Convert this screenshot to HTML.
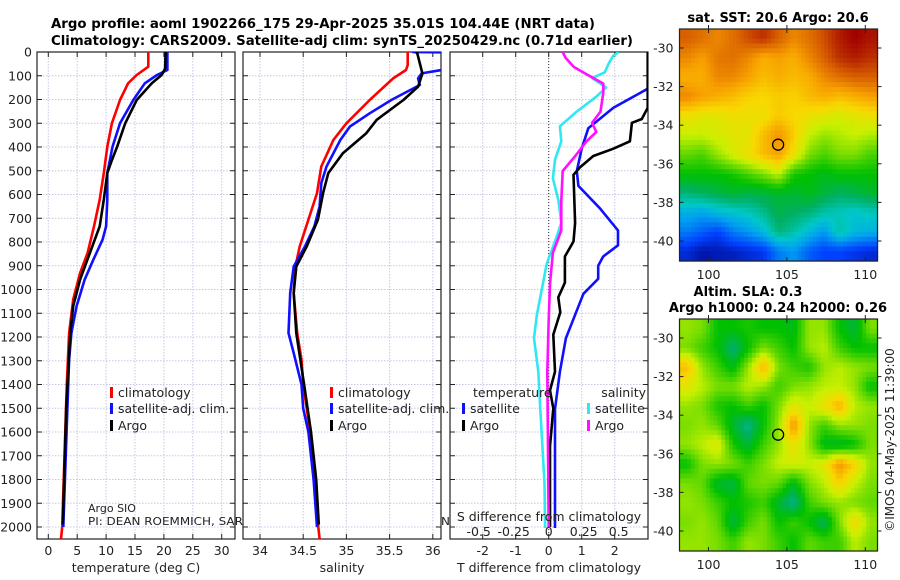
<!DOCTYPE html>
<html><head><meta charset="utf-8">
<style>
html,body{margin:0;padding:0;background:#fff;}
svg{display:block;font-family:"DejaVu Sans","Liberation Sans",sans-serif;}
</style></head>
<body>
<svg id="fig" width="900" height="580" viewBox="0 0 900 580" xmlns="http://www.w3.org/2000/svg">
<rect x="0" y="0" width="900" height="580" fill="#fff"/>
<text x="51" y="28" font-size="13.5" font-weight="bold" textLength="544" lengthAdjust="spacingAndGlyphs">Argo profile: aoml 1902266_175 29-Apr-2025 35.01S 104.44E (NRT data)</text>
<text x="51" y="45" font-size="13.5" font-weight="bold" textLength="582" lengthAdjust="spacingAndGlyphs">Climatology: CARS2009. Satellite-adj clim: synTS_20250429.nc (0.71d earlier)</text>
<g id="layer"></g>
</svg>
<script>
// ---------- data ----------
const depthTicks = [0,100,200,300,400,500,600,700,800,900,1000,1100,1200,1300,1400,1500,1600,1700,1800,1900,2000];
const tempTicks = [0,5,10,15,20,25,30];
const salTicks = [34,34.5,35,35.5,36];
const salTickLabels = ["34","34.5","35","35.5","36"];
const tdiffTicks = [-2,-1,0,1,2];
const sdiffTicks = [-0.5,-0.25,0,0.25,0.5];
const sdiffTickLabels = ["-0.5","-0.25","0","0.25","0.5"];

const climTDepth = [0,62,97,132,202,300,399,510,622,734,846,930,1042,1183,1400,2000,2050];
const climTVal   = [17.3,17.3,15.3,13.8,12.4,11.0,10.2,9.6,8.9,7.9,6.8,5.5,4.3,3.6,3.2,2.4,2.2];
const satTDepth  = [0,76,97,132,202,300,399,510,622,734,790,874,958,1070,1183,1296,1500,2000];
const satTVal    = [20.6,20.6,18.8,16.7,14.7,12.4,11.1,10.2,10.2,10.0,9.4,7.8,6.3,4.9,4.0,3.6,3.3,2.6];
const argoTDepth = [0,70,97,132,202,300,399,455,510,622,734,846,958,1070,1183,1500,1990];
const argoTVal   = [20.3,20.2,19.6,17.9,15.3,13.3,11.9,11.0,10.2,9.6,8.9,7.2,5.5,4.3,3.8,3.1,2.5];

const climSDepth = [0,55,76,111,202,300,370,482,594,706,819,903,1015,1183,1296,1400,1600,1800,2000,2050];
const climSVal   = [35.71,35.71,35.69,35.54,35.27,35.00,34.85,34.71,34.66,34.56,34.46,34.41,34.39,34.43,34.48,34.50,34.58,34.64,34.675,34.69];
const satSDepth  = [0,2,70,77,90,111,139,160,202,258,314,370,482,552,650,734,819,903,1015,1183,1268,1400,1500,1600,1800,2000];
const satSVal    = [35.76,36.3,36.3,36.08,35.87,35.83,35.85,35.74,35.52,35.27,35.04,34.93,34.77,34.71,34.69,34.63,34.52,34.39,34.35,34.33,34.39,34.48,34.50,34.56,34.62,34.66];
const argoSDepth = [0,4,90,146,202,286,342,426,510,594,706,819,903,1015,1183,1400,1600,1800,1990];
const argoSVal   = [35.80,35.82,35.88,35.83,35.66,35.35,35.23,34.96,34.79,34.73,34.67,34.54,34.42,34.39,34.42,34.51,34.59,34.65,34.68];

const satTdDepth = [0,80,118,157,235,321,407,501,564,658,751,814,861,900,955,1018,1205,1346,1503,2004];
const satTdVal   = [3.3,3.3,3.5,2.97,1.96,1.2,1.0,0.85,0.9,1.55,2.1,2.1,1.65,1.5,1.5,1.05,0.52,0.34,0.19,0.19];
const argoTdDepth = [0,55,235,282,298,376,407,438,485,517,720,798,861,971,1033,1096,1190,1346,1425,1500,1660,2000];
const argoTdVal   = [3.0,3.0,3.0,2.82,2.52,2.46,1.96,1.35,0.95,0.75,0.8,0.75,0.49,0.49,0.29,0.35,0.14,0.19,0.04,0.14,0.04,0.04];
const satSdDepth = [0,16,47,86,110,149,188,251,313,376,454,532,626,720,798,892,1002,1111,1205,1346,1503,1816,2004];
const satSdVal   = [0.50,0.46,0.43,0.40,0.31,0.41,0.34,0.20,0.08,0.09,0.045,0.03,0.07,0.09,0.045,-0.014,-0.05,-0.086,-0.105,-0.074,-0.06,-0.03,-0.026];
const argoSdDepth = [0,24,63,94,133,172,251,298,337,376,438,501,626,751,845,971,1127,1346,2000];
const argoSdVal   = [0.10,0.12,0.18,0.27,0.39,0.39,0.37,0.31,0.34,0.27,0.19,0.10,0.09,0.09,0.03,0.01,0.0,-0.01,0.0];

const mapLonTicks = [100,105,110];
const mapLatTicks = [-30,-32,-34,-36,-38,-40];
const argoLon = 104.44, argoLat = -35.01;
const sstGrid = [
[.90,.88,.85,.88,.92,.95,.90,.85,.88,.92,.97,1.0,.98],
[.85,.82,.87,.88,.85,.80,.82,.80,.85,.90,.95,.97,.95],
[.80,.80,.85,.85,.82,.78,.80,.78,.80,.85,.88,.90,.90],
[.85,.82,.80,.78,.75,.74,.76,.75,.78,.80,.78,.80,.82],
[.72,.70,.70,.72,.72,.72,.76,.74,.72,.70,.68,.70,.72],
[.66,.66,.68,.70,.70,.78,.84,.76,.66,.62,.64,.66,.64],
[.58,.56,.62,.68,.72,.78,.82,.72,.60,.56,.60,.60,.56],
[.50,.50,.50,.52,.56,.60,.66,.52,.50,.48,.50,.50,.50],
[.40,.42,.44,.46,.44,.45,.46,.46,.48,.45,.42,.44,.46],
[.28,.26,.30,.32,.34,.38,.44,.42,.40,.36,.34,.32,.34],
[.20,.16,.12,.20,.24,.30,.40,.36,.30,.24,.36,.30,.28],
[.08,.04,.05,.06,.08,.10,.20,.24,.16,.12,.12,.10,.08]];
const slaGrid = [
[.62,.60,.50,.50,.52,.50,.50,.48,.62,.62,.50,.45,.60],
[.60,.55,.50,.40,.50,.60,.55,.50,.62,.65,.55,.50,.50],
[.78,.62,.55,.48,.62,.80,.60,.55,.52,.62,.65,.62,.60],
[.70,.65,.60,.60,.65,.62,.55,.60,.62,.65,.66,.62,.50],
[.62,.60,.52,.50,.55,.50,.60,.70,.66,.72,.80,.65,.62],
[.60,.62,.58,.46,.38,.50,.62,.84,.62,.55,.62,.62,.60],
[.62,.65,.70,.52,.45,.55,.62,.72,.62,.48,.46,.50,.60],
[.50,.60,.62,.60,.55,.60,.66,.68,.66,.70,.84,.75,.62],
[.60,.58,.46,.44,.58,.60,.58,.48,.60,.65,.75,.66,.60],
[.62,.60,.55,.50,.52,.55,.46,.38,.55,.60,.62,.60,.58],
[.60,.62,.58,.44,.55,.60,.50,.55,.50,.42,.60,.74,.62],
[.62,.62,.60,.55,.62,.60,.55,.50,.58,.55,.55,.65,.60]];

// ---------- helpers ----------
const NS = "http://www.w3.org/2000/svg";
const L = document.getElementById('layer');
function el(tag, attrs, parent){ const e=document.createElementNS(NS,tag); for(const k in attrs) e.setAttribute(k,attrs[k]); (parent||L).appendChild(e); return e; }
function txt(x,y,s,size,anchor,parent,extra){ const t=el('text',Object.assign({x:x,y:y,'font-size':size,'text-anchor':anchor||'start',fill:'#222'},extra||{}),parent); t.textContent=s; return t; }

const Y0=52, YB=539, PXM=0.2375;
const yD = d => Y0 + d*PXM;
const panels = [
  {x0:37,x1:235,name:'temperature-panel', xs:v=>48.3+v*5.78},
  {x0:243,x1:441,name:'salinity-panel', xs:v=>260+(v-34)*86.4},
  {x0:450,x1:648,name:'difference-panel', xs:v=>548.7+v*33}
];
const sdX = v => 548.7 + v*140;

const defs = el('defs',{});
panels.forEach((p,i)=>{ const c=el('clipPath',{id:'clip'+i},defs); el('rect',{x:p.x0,y:Y0,width:p.x1-p.x0,height:YB-Y0},c); });

function line(depths, vals, xf, color, clipId, name){
  const pts = depths.map((d,i)=> xf(vals[i]).toFixed(1)+','+yD(d).toFixed(1)).join(' ');
  const pl = el('polyline',{points:pts,fill:'none',stroke:color,'stroke-width':2.6,'stroke-linejoin':'round','clip-path':'url(#'+clipId+')'});
  
  
}
function legendEntry(x,y,color,label,g,name){
  const gg = el('g',{},g);
  
  
  el('rect',{x:x,y:y-10,width:3,height:11,fill:color},gg);
  txt(x+8,y,label,12.5,'start',gg);
}

panels.forEach((p,i)=>{
  const g = el('g',{});
  
  
  el('rect',{x:p.x0,y:Y0,width:p.x1-p.x0,height:YB-Y0,fill:'#fff'},g);
  depthTicks.forEach(d=>{
    el('line',{x1:p.x0,x2:p.x1,y1:yD(d),y2:yD(d),stroke:'#c4c8e6','stroke-width':1,'stroke-dasharray':'1.5,1.5'},g);
    el('line',{x1:p.x0,x2:p.x0+5,y1:yD(d),y2:yD(d),stroke:'#222','stroke-width':1},g);
    el('line',{x1:p.x1-5,x2:p.x1,y1:yD(d),y2:yD(d),stroke:'#222','stroke-width':1},g);
  });
  let ticks = i===0?tempTicks:(i===1?salTicks:tdiffTicks);
  let labels = i===1?salTickLabels:ticks.map(String);
  ticks.forEach((t,k)=>{
    const x=p.xs(t);
    el('line',{x1:x,x2:x,y1:Y0,y2:YB,stroke:'#c4c8e6','stroke-width':1,'stroke-dasharray':'1.5,1.5'},g);
    el('line',{x1:x,x2:x,y1:YB-5,y2:YB,stroke:'#222','stroke-width':1},g);
    el('line',{x1:x,x2:x,y1:Y0,y2:Y0+5,stroke:'#222','stroke-width':1},g);
    const tl = txt(x,555,labels[k],12.5,'middle',g);
    
    
  });
  if(i===0){
    depthTicks.forEach(d=>{ const t=txt(32,yD(d)+4.5,String(d),12.5,'end',g);
      
       });
    line(climTDepth,climTVal,p.xs,'#ff0000','clip0','climatology-temperature-line');
    line(satTDepth,satTVal,p.xs,'#1010ff','clip0','satellite-temperature-line');
    line(argoTDepth,argoTVal,p.xs,'#000','clip0','argo-temperature-line');
    txt(136,572,'temperature (deg C)',12.5,'middle',g,{});
    legendEntry(110,397,'#ff0000','climatology',L,'legend-climatology');
    legendEntry(110,413,'#1010ff','satellite-adj. clim.',L,'legend-satellite');
    legendEntry(110,430,'#000','Argo',L,'legend-argo');
    const c1=txt(88,512,'Argo SIO',11,'start',L);  
    const c2=txt(88,525,'PI: DEAN ROEMMICH, SARAH PURKEY, NATHALIE ZILBERMAN',11,'start',L,{textLength:'362',lengthAdjust:'spacingAndGlyphs'});  
  }
  if(i===1){
    line(climSDepth,climSVal,p.xs,'#ff0000','clip1','climatology-salinity-line');
    line(satSDepth,satSVal,p.xs,'#1010ff','clip1','satellite-salinity-line');
    line(argoSDepth,argoSVal,p.xs,'#000','clip1','argo-salinity-line');
    txt(342,572,'salinity',12.5,'middle',g,{});
    legendEntry(330,397,'#ff0000','climatology',L,'legend-climatology-s');
    legendEntry(330,413,'#1010ff','satellite-adj. clim.',L,'legend-satellite-s');
    legendEntry(330,430,'#000','Argo',L,'legend-argo-s');
  }
  if(i===2){
    el('line',{x1:p.xs(0),x2:p.xs(0),y1:Y0,y2:YB,stroke:'#333','stroke-width':1,'stroke-dasharray':'1,2'},g);
    line(satTdDepth,satTdVal,p.xs,'#1010ff','clip2','satellite-t-diff-line');
    line(argoTdDepth,argoTdVal,p.xs,'#000','clip2','argo-t-diff-line');
    line(satSdDepth,satSdVal,sdX,'#30e8f0','clip2','satellite-s-diff-line');
    line(argoSdDepth,argoSdVal,sdX,'#ff10ff','clip2','argo-s-diff-line');
    txt(549,572,'T difference from climatology',12.5,'middle',g,{});
    txt(473,397,'temperature',12.5,'start',L,{});
    legendEntry(462,413,'#1010ff','satellite',L,'legend-t-satellite');
    legendEntry(462,430,'#000','Argo',L,'legend-t-argo');
    txt(646,397,'salinity',12.5,'end',L,{});
    legendEntry(587,413,'#30e8f0','satellite',L,'legend-s-satellite');
    legendEntry(587,430,'#ff10ff','Argo',L,'legend-s-argo');
    txt(549,521,'S difference from climatology',12.5,'middle',L,{});
    sdiffTicks.forEach((t,k)=>{ const s=txt(sdX(t),536,sdiffTickLabels[k],12.5,'middle',L);
      
       });
  }
  el('rect',{x:p.x0,y:Y0,width:p.x1-p.x0,height:YB-Y0,fill:'none',stroke:'#222','stroke-width':1.2},g);
});

// ---------- maps ----------
const cStops=[[0,[0,0,128]],[.12,[0,64,255]],[.25,[0,160,240]],[.33,[0,200,200]],[.42,[0,176,96]],[.5,[0,192,0]],[.58,[96,216,0]],[.66,[200,240,0]],[.74,[248,216,0]],[.82,[248,160,0]],[.9,[216,96,0]],[1,[160,0,0]]];
function cmap(v){ v=Math.max(0,Math.min(1,v)); for(let i=1;i<cStops.length;i++){ if(v<=cStops[i][0]){ const a=cStops[i-1],b=cStops[i],f=(v-a[0])/(b[0]-a[0]); return 'rgb('+a[1].map((c,k)=>Math.round(c+(b[1][k]-c)*f)).join(',')+')'; } } return 'rgb(160,0,0)'; }
const MX0=679.5, MX1=877.5;
const lonX = lon => 708.5 + (lon-100)*15.68;
function drawMap(top, bottom, lat30y, grid, sub, name, titles){
  const g=el('g',{});
  
  
  const latY = lat => lat30y + (-30-lat)*19.3;
  const rows=grid.length, cols=grid[0].length;
  const cw=(MX1-MX0)/cols, ch=(bottom-top)/rows;
  for(let r=0;r<rows*sub;r++){
    for(let c=0;c<cols*sub;c++){
      const fr=(r+0.5)/sub-0.5, fc=(c+0.5)/sub-0.5;
      const r0=Math.max(0,Math.min(rows-1,Math.floor(fr))), r1=Math.min(rows-1,r0+1);
      const c0=Math.max(0,Math.min(cols-1,Math.floor(fc))), c1=Math.min(cols-1,c0+1);
      const ar=Math.max(0,Math.min(1,fr-r0)), ac=Math.max(0,Math.min(1,fc-c0));
      const v=(grid[r0][c0]*(1-ac)+grid[r0][c1]*ac)*(1-ar)+(grid[r1][c0]*(1-ac)+grid[r1][c1]*ac)*ar;
      el('rect',{x:(MX0+c*cw/sub).toFixed(2),y:(top+r*ch/sub).toFixed(2),width:(cw/sub+0.6).toFixed(2),height:(ch/sub+0.6).toFixed(2),fill:cmap(v)},g);
    }
  }
  el('rect',{x:MX0,y:top,width:MX1-MX0,height:bottom-top,fill:'none',stroke:'#222','stroke-width':1.2},g);
  mapLonTicks.forEach(l=>{ const x=lonX(l);
    el('line',{x1:x,x2:x,y1:bottom,y2:bottom-4,stroke:'#222'},g);
    el('line',{x1:x,x2:x,y1:top,y2:top+4,stroke:'#222'},g);
    el('line',{x1:x,x2:x,y1:top,y2:top-4,stroke:'#222'},g);
    txt(x,bottom+18,String(l),12.5,'middle',g); });
  mapLatTicks.forEach(l=>{ const y=latY(l);
    el('line',{x1:MX0,x2:MX0+4,y1:y,y2:y,stroke:'#222'},g);
    el('line',{x1:MX1,x2:MX1+4,y1:y,y2:y,stroke:'#222'},g);
    txt(MX0-6,y+4.5,String(l),12.5,'end',g); });
  const ac=el('circle',{cx:lonX(argoLon),cy:latY(argoLat),r:5.5,fill:'none',stroke:'#000','stroke-width':1.3},g);
  
  
  titles.forEach(t=>txt(t[0],t[1],t[2],13,'middle',g,{'font-weight':'bold',fill:'#000'}));
}
drawMap(29,261,48,sstGrid,4,'sst-map',[[778,22,'sat. SST: 20.6 Argo: 20.6']]);
drawMap(319,551,338,slaGrid,4,'sla-map',[[748,296,'Altim. SLA: 0.3'],[778,312,'Argo h1000: 0.24 h2000: 0.26']]);
const cr=txt(894,440,'©IMOS 04-May-2025 11:39:00',12,'middle',L,{transform:'rotate(-90 894 440)'});


</script>
</body></html>
